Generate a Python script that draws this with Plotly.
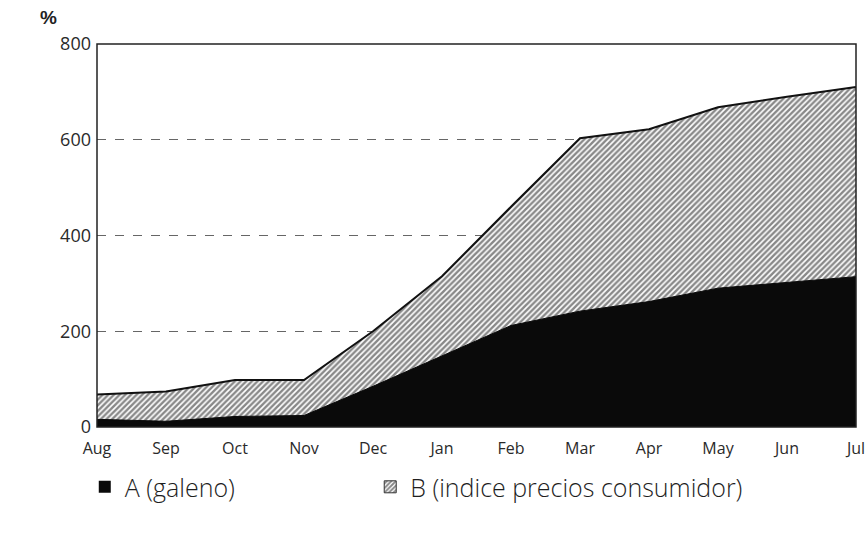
import plotly.graph_objects as go

months = ["Aug", "Sep", "Oct", "Nov", "Dec", "Jan", "Feb", "Mar", "Apr", "May", "Jun", "Jul"]
a_galeno = [16, 12, 22, 24, 85, 148, 212, 242, 262, 290, 302, 314]
b_ipc = [68, 74, 98, 98, 200, 315, 460, 603, 622, 668, 690, 710]
y_ticks = [0, 200, 400, 600, 800]

hatch = dict(shape="/", fgcolor="#111111", bgcolor="white", size=4, solidity=0.6)
FONT = "Open Sans, Liberation Sans, Arial, sans-serif"
LEG_FONT = dict(size=25, color="#1e1e1e", family=FONT, weight=300)

fig = go.Figure()
fig.add_trace(go.Scatter(
    x=months, y=b_ipc, name="B (indice precios consumidor)", showlegend=False,
    mode="lines", fill="tozeroy",
    line=dict(color="#111111", width=2),
    fillcolor="white", fillpattern=hatch,
))
fig.add_trace(go.Scatter(
    x=months, y=a_galeno, name="A (galeno)", showlegend=False,
    mode="lines", fill="tozeroy",
    line=dict(color="#0a0a0a", width=1),
    fillcolor="#0a0a0a",
))
# legend keys
fig.add_trace(go.Bar(x=[None], y=[None], name="A (galeno)", legend="legend",
                     marker=dict(color="#0a0a0a", line=dict(width=0))))
fig.add_trace(go.Bar(x=[None], y=[None], name="B (indice precios consumidor)", legend="legend2",
                     marker=dict(color="white", line=dict(color="#333333", width=1),
                                 pattern=hatch)))

fig.update_layout(
    width=865, height=537,
    margin=dict(l=97, r=9, t=44, b=110, autoexpand=False),
    paper_bgcolor="white", plot_bgcolor="white",
    font=dict(family=FONT, color="#2a2a2a", size=16, weight=400),
    showlegend=True,
    legend=dict(orientation="h", xref="container", yref="container",
                x=0.098, y=0.093, xanchor="left", yanchor="middle",
                font=LEG_FONT, bgcolor="rgba(0,0,0,0)"),
    legend2=dict(orientation="h", xref="container", yref="container",
                 x=0.428, y=0.093, xanchor="left", yanchor="middle",
                 font=LEG_FONT, bgcolor="rgba(0,0,0,0)"),
    xaxis=dict(type="category", range=[0, 11], showgrid=False, zeroline=False,
               showline=False, ticks="", tickfont=dict(size=16),
               ticklabelstandoff=10, automargin=False),
    yaxis=dict(range=[0, 800], tickvals=y_ticks, showgrid=True,
               gridcolor="#666666", griddash="dash", gridwidth=1, zeroline=False,
               showline=False, ticks="", tickfont=dict(size=18),
               ticklabelstandoff=5, automargin=False),
    shapes=[dict(type="rect", xref="paper", yref="paper", x0=0, x1=1, y0=0, y1=1,
                 line=dict(color="#222222", width=1.5), layer="above")],
    annotations=[dict(text="<b>%</b>", xref="paper", yref="paper", x=-0.0645, y=1.068,
                      xanchor="center", yanchor="middle", showarrow=False,
                      font=dict(size=19, color="#222222", family="Liberation Sans, Arial"))],
)

fig.write_html("out.html", config={"displayModeBar": False},
               post_script="document.body.style.margin='0px';")
